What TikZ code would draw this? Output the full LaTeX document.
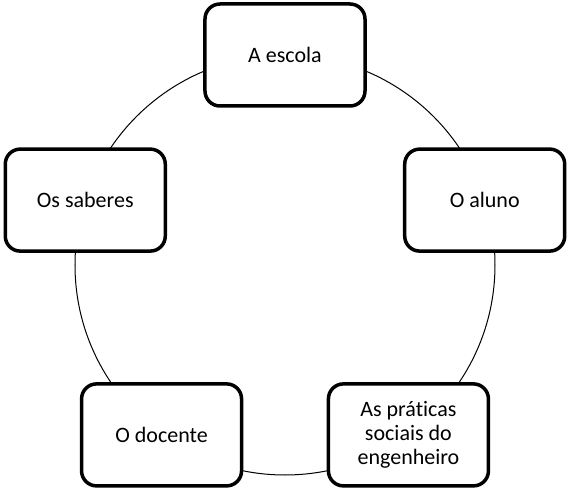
\documentclass[tikz,border=0pt]{standalone}
\usepackage{fontspec}
\setmainfont{Carlito}[Ligatures=NoCommon]
\begin{document}
\begin{tikzpicture}[x=1pt,y=1pt,
  etapa/.style={draw, line width=3.5pt, rounded corners=15pt, fill=white,
    minimum width=160pt, minimum height=102pt, inner sep=0pt, align=center,
    font=\fontsize{22}{24}\selectfont}]
\useasboundingbox (-285,-224) rectangle (285,265);
\draw[line width=1pt] (0,0) circle (210pt);
\node[etapa] (escola) at (90:210) {A escola};
\node[etapa] (aluno) at (18:210) {O aluno};
\node[etapa] (praticas) at (-54:210) {As práticas\\sociais do\\engenheiro};
\node[etapa] (docente) at (-126:210) {O docente};
\node[etapa] (saberes) at (162:210) {Os saberes};
\end{tikzpicture}
\end{document}
